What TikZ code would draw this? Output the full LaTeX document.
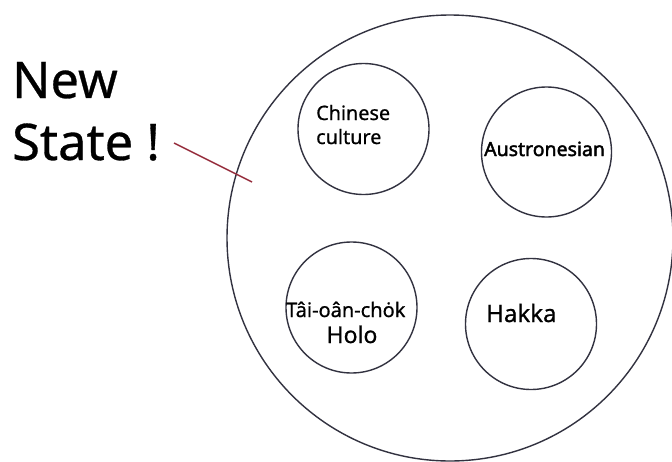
\documentclass[tikz,border=0pt]{standalone}
\usepackage{fontspec}
\setmainfont{Noto Sans}
\newfontfamily\semibold[FakeBold=0.8]{Noto Sans}
\newfontfamily\heavybold[FakeBold=2]{Noto Sans}
\newfontfamily\titlefont[FakeBold=0.6]{Noto Sans}
\begin{document}
\begin{tikzpicture}[x=1pt,y=-1pt,
  ring/.style={draw=circlecol,line width=1.4pt,circle,inner sep=0pt},
  lbl/.style={anchor=base west,inner sep=0pt,text=black},
  pointer/.style={draw=pointercol,line width=1.4pt}]
\definecolor{circlecol}{RGB}{50,50,64}
\definecolor{pointercol}{RGB}{150,45,60}
\useasboundingbox (0,0) rectangle (672,461);
\fill[white] (0,0) rectangle (672,461);
% big state circle
\node[ring,minimum width=446pt,minimum height=444pt] (state) at (450,238) {};
% inner circles
\node[ring,minimum size=131pt] (chinese) at (363.5,129) {};
\node[ring,minimum size=130pt] (austro) at (546.5,152) {};
\node[ring,minimum size=131pt] (holo) at (351.5,307.5) {};
\node[ring,minimum size=131pt] (hakka) at (531,324) {};
% labels
\node[lbl,font=\semibold\fontsize{19.8}{19.8}\selectfont] (t1) at (316,120) {Chinese};
\node[lbl,font=\semibold\fontsize{19.8}{19.8}\selectfont] (t2) at (316,144) {culture};
\node[lbl,font=\heavybold\fontsize{19.5}{19.5}\selectfont] (t3) at (484,156) {Austronesian};
\node[lbl,font=\semibold\fontsize{20}{20}\selectfont] (t4) at (286,317) {Tâi-oân-chȯk};
\node[anchor=base,inner sep=0pt,font=\semibold\fontsize{23}{23}\selectfont] (t5) at (352,343) {Holo};
\node[lbl,font=\semibold\fontsize{24}{24}\selectfont] (t6) at (486,322) {Hakka};
% title
\node[lbl,font=\titlefont\fontsize{50.5}{50.5}\selectfont] (n1) at (12,98) {New};
\node[lbl,font=\titlefont\fontsize{50.5}{50.5}\selectfont] (n2) at (12,160) {State !};
\coordinate (pstart) at (174,143);
\coordinate (pend) at (252,182);
\draw[pointer] (pstart) -- (pend);
\end{tikzpicture}
\end{document}
